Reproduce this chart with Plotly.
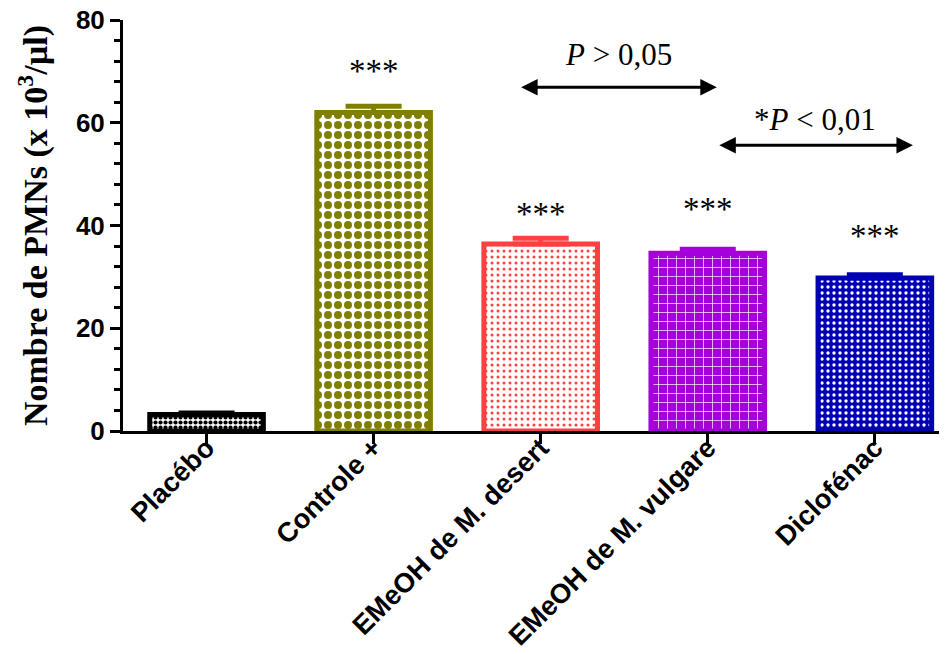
import plotly.graph_objects as go

categories = ["Placébo", "Controle +", "EMeOH de M. desert", "EMeOH de M. vulgare", "Diclofénac"]
means = [3.2, 62.0, 36.4, 34.6, 29.8]
sem = [0.3, 1.2, 1.1, 0.8, 0.6]
star_labels = ["", "***", "***", "***", "***"]
star_y = [None, 70.0, 42.2, 43.2, 37.9]

colors = ["#000000", "#808000", "#FF4040", "#A500DC", "#0000B4"]
pat_shape = [".", ".", ".", "+", "."]
pat_fg = ["#000000", "#808000", "#FF4040", "#FFFFFF", "#FFFFFF"]
pat_bg = ["#FFFFFF", "#FFFFFF", "#FFFFFF", "#A500DC", "#0000B4"]
pat_size = [5, 10, 6, 9, 6]
pat_sol = [0.55, 0.5, 0.2, 0.15, 0.25]

fig = go.Figure()
for i, cat in enumerate(categories):
    fig.add_trace(go.Bar(
        x=[i], y=[means[i]], width=0.68,
        marker=dict(
            color=pat_bg[i],
            line=dict(color=colors[i], width=5),
            pattern=dict(shape=pat_shape[i], fgcolor=pat_fg[i], bgcolor=pat_bg[i],
                         size=pat_size[i], solidity=pat_sol[i], fillmode="replace"),
        ),
        error_y=dict(type="data", symmetric=False, array=[sem[i]], arrayminus=[0],
                     color=colors[i], thickness=5, width=28),
        showlegend=False, name=cat,
    ))

annotations = []
for i in range(len(categories)):
    if star_labels[i]:
        annotations.append(dict(x=i, y=star_y[i], text=star_labels[i], showarrow=False,
                                font=dict(family="Liberation Serif", size=33, color="black"),
                                xref="x", yref="y"))

# comparison arrows
arrows = [(1.874, 3.054, 66.9, "<i>P</i> > 0,05", 73.2), (3.06, 4.228, 55.6, "*<i>P</i> < 0,01", 60.7)]
for x0, x1, ya, label, ytxt in arrows:
    annotations.append(dict(x=x1, y=ya, ax=x0, ay=ya, xref="x", yref="y", axref="x", ayref="y",
                            text="", showarrow=True, arrowhead=2, arrowside="end+start",
                            arrowsize=1.1, arrowwidth=3, arrowcolor="black"))
    annotations.append(dict(x=(x0 + x1) / 2, y=ytxt, text=label, showarrow=False,
                            font=dict(family="Liberation Serif", size=31, color="black"),
                            xref="x", yref="y"))

fig.update_layout(
    width=947, height=654,
    margin=dict(l=115, r=15, t=12, b=231),
    plot_bgcolor="white", paper_bgcolor="white",
    barmode="overlay",
    annotations=annotations,
    xaxis=dict(
        range=[-0.5, 4.39], tickmode="array", tickvals=list(range(len(categories))),
        ticktext=categories, tickangle=-45, showline=True, linecolor="black", linewidth=3,
        ticks="outside", ticklen=10, tickwidth=3, tickcolor="black", showgrid=False, zeroline=False,
        automargin=False, ticklabelstandoff=-23, ticklabeloverflow="allow",
        tickfont=dict(family="Liberation Sans", size=27.3, color="black", weight="bold"),
    ),
    yaxis=dict(
        range=[0, 80], tickvals=[0, 20, 40, 60, 80], showline=True, linecolor="black", linewidth=3,
        ticks="outside", ticklen=10, tickwidth=3, tickcolor="black", showgrid=False, zeroline=False,
        automargin=False, ticklabeloverflow="allow",
        minor=dict(dtick=4, ticks="outside", ticklen=6, tickwidth=3, tickcolor="black"),
        tickfont=dict(family="Liberation Sans", size=26, color="black", weight="bold"),
        title=dict(text="Nombre de PMNs (x 10<sup>3</sup>/µl)", standoff=18,
                   font=dict(family="Liberation Serif", size=34, color="black", weight="bold")),
    ),
)

fig.write_html("out.html")
